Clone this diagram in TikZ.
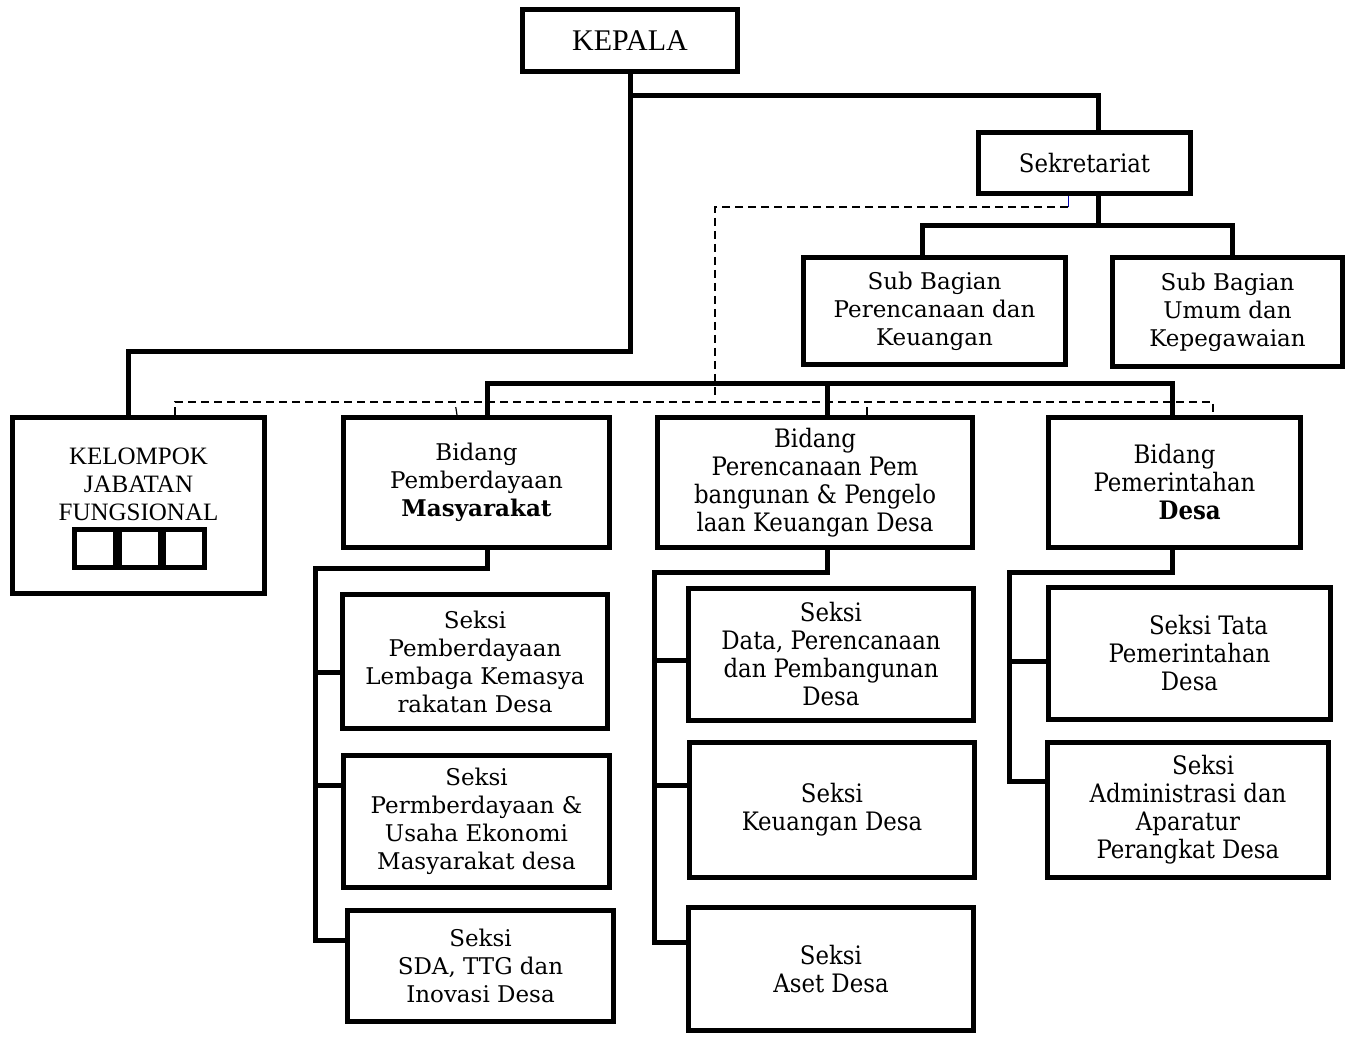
\documentclass[tikz,border=0pt]{standalone}
\usepackage{fontspec}
\setmainfont{DejaVu Serif}
\newfontfamily\condfont{DejaVu Serif Condensed}
\newfontfamily\timesfont{Liberation Serif}
\usepackage{tikz}
\usetikzlibrary{calc}

\begin{document}
\begin{tikzpicture}[x=0.5pt, y=-0.5pt,
  box/.style={draw, line width=2.5pt, align=center, inner sep=2pt,
    font=\fontsize{11.5}{14}\selectfont},
  cbox/.style={box, font=\condfont\fontsize{12.7}{14}\selectfont},
  tbox/.style={box, font=\timesfont\fontsize{12.5}{14}\selectfont},
  sq/.style={draw, line width=2.5pt, minimum width=20.5pt, minimum height=19pt, inner sep=0pt},
  link/.style={line width=2.5pt},
  dashline/.style={line width=0.6pt, dash pattern=on 4pt off 2.5pt}]
\useasboundingbox (0,0) rectangle (1354,1037);

\node[tbox, minimum width=107.5pt, minimum height=31pt, font=\timesfont\fontsize{15}{17}\selectfont] (kepala) at (630,40.5) {KEPALA};
\node[cbox, minimum width=106pt, minimum height=30.5pt] (sekr) at (1084.5,163) {Sekretariat};
\node[box, minimum width=131pt, minimum height=53.5pt] (sbpk) at (934.5,311) {Sub Bagian\\Perencanaan dan\\Keuangan};
\node[box, minimum width=115pt, minimum height=54.5pt] (sbuk) at (1227.5,312) {Sub Bagian\\Umum dan\\Kepegawaian};

\node[box, minimum width=126pt, minimum height=88pt] (kjf) at (138.5,505.5) {};
\node[tbox, draw=none, inner sep=0pt] (kjft) at (138.5,484) {KELOMPOK\\JABATAN\\FUNGSIONAL};
\foreach \i/\x in {1/95,2/139.5,3/183.5}
  \node[sq] (sq\i) at (\x,548) {};

\node[box, minimum width=133pt, minimum height=65pt] (bpm) at (476.5,482.5) {Bidang\\Pemberdayaan\\\textbf{Masyarakat}};
\node[cbox, minimum width=157.5pt, minimum height=65pt] (bppk) at (815,482.5) {Bidang\\Perencanaan Pem\\bangunan \& Pengelo\\laan Keuangan Desa};
\node[cbox, minimum width=126pt, minimum height=65pt] (bpd) at (1174.5,482.5) {Bidang\\Pemerintahan\\\hspace*{1.2em}\textbf{Desa}};

\node[box, minimum width=132.5pt, minimum height=67pt] (s11) at (475,661.5) {Seksi\\Pemberdayaan\\Lembaga Kemasya\\rakatan Desa};
\node[box, minimum width=133pt, minimum height=66pt] (s12) at (476.5,821.5) {Seksi\\Permberdayaan \&\\Usaha Ekonomi\\Masyarakat desa};
\node[box, minimum width=133pt, minimum height=55.5pt] (s13) at (480.5,966) {Seksi\\SDA, TTG dan\\Inovasi Desa};

\node[cbox, minimum width=142.5pt, minimum height=66pt] (s21) at (831,654.5) {Seksi\\Data, Perencanaan\\dan Pembangunan\\Desa};
\node[cbox, minimum width=142.5pt, minimum height=67.5pt] (s22) at (832,810) {Seksi\\Keuangan Desa};
\node[cbox, minimum width=142.5pt, minimum height=61.5pt] (s23) at (831,969) {Seksi\\Aset Desa};

\node[cbox, minimum width=141pt, minimum height=66pt] (s31) at (1189.5,653.5) {\hspace*{1.5em}Seksi Tata\\Pemerintahan\\Desa};
\node[cbox, minimum width=140.5pt, minimum height=67.5pt] (s32) at (1188,810) {\hspace*{1.2em}Seksi\\Administrasi dan\\Aparatur\\Perangkat Desa};

\draw[link] (kepala.south) -- ++(0,278) -| ([xshift=-5.25pt]kjf.north);
\draw[link] ([yshift=-11pt]kepala.south) -| ([xshift=6.75pt]sekr.north);
\draw[link] ([xshift=6.75pt]sekr.south) -- ++(0,31);
\draw[link] ([xshift=-6.25pt]sbpk.north) -- ++(0,-29) -| ([xshift=2.25pt]sbuk.north);

\draw[link] ([xshift=5.25pt]bpm.north) -- ++(0,-31) -| ([xshift=-1.25pt]bpd.north);
\draw[link] ([xshift=6pt]bppk.north) -- ++(0,-31);

\draw[blue!70!black, line width=0.5pt] ([xshift=-8.25pt]sekr.south) -- ++(0,11);
\draw[dashline] ([xshift=-8.25pt,yshift=-5.5pt]sekr.south) -- ++(-353,0) -- ++(0,192);
\draw[dashline] ([xshift=18.25pt]kjf.north) -- ++(0,-13) -| ([xshift=19.25pt]bpd.north);
\draw[dashline] ([xshift=-9.75pt]bpm.north) -- ++(-2,-13);
\draw[dashline] ([xshift=26pt]bppk.north) -- ++(0,-13);

\draw[link] ([xshift=5.25pt]bpm.south) -- ++(0,18) -| ([xshift=-14.75pt,yshift=13pt]s13.west) -- ([yshift=13pt]s13.west);
\draw[link] ([yshift=-5.25pt]s11.west) -- ++(-25,0);
\draw[link] ([yshift=18.25pt]s12.west) -- ++(-25,0);

\draw[link] ([xshift=6pt]bppk.south) -- ++(0,22) -| ([xshift=-15.75pt,yshift=13.5pt]s23.west) -- ([yshift=13.5pt]s23.west);
\draw[link] ([yshift=-2.75pt]s21.west) -- ++(-31.5,0);
\draw[link] ([yshift=12.5pt]s22.west) -- ++(-31.5,0);

\draw[link] ([xshift=-1.25pt]bpd.south) -- ++(0,22) -| ([xshift=-18pt,yshift=14.5pt]s32.west) -- ([yshift=14.5pt]s32.west);
\draw[link] ([yshift=-3.75pt]s31.west) -- ++(-36,0);
\end{tikzpicture}
\end{document}
